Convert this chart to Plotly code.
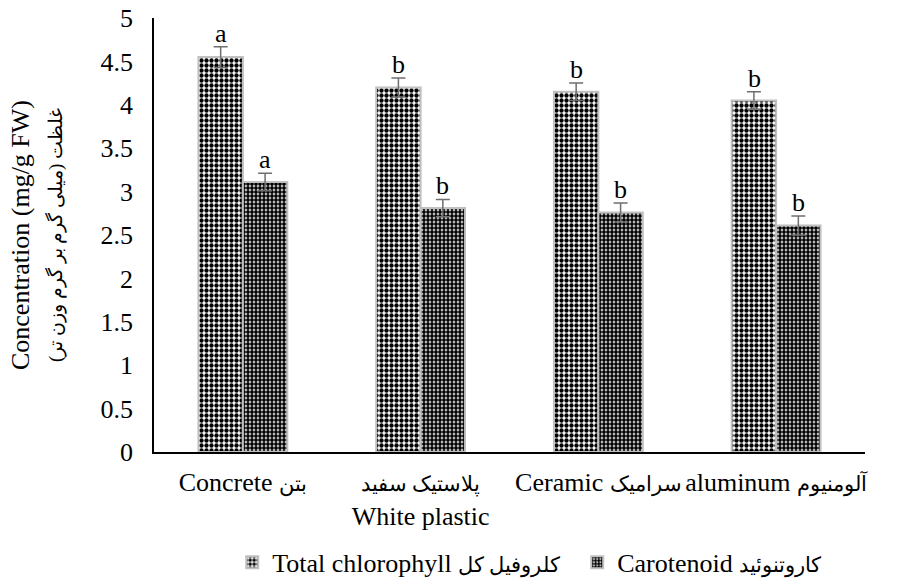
import plotly.graph_objects as go

def fa(s, size):
    return f"<span style='font-size:{size}px'>{s}</span>"

categories = ["Concrete " + fa("بتن", 21),
              fa("پلاستیک سفید", 21) + "<br>White plastic",
              "Ceramic " + fa("سرامیک", 21),
              "aluminum " + fa("آلومنیوم", 21)]
chlorophyll = [4.55, 4.20, 4.15, 4.05]
chlorophyll_err = [0.12, 0.11, 0.10, 0.10]
carotenoid = [3.11, 2.81, 2.76, 2.61]
carotenoid_err = [0.10, 0.10, 0.11, 0.11]
chl_letters = ["a", "b", "b", "b"]
car_letters = ["a", "b", "b", "b"]
series_names = ["Total chlorophyll " + fa("کلروفیل کل", 21), "Carotenoid " + fa("کاروتنوئید", 21)]
y_title = "Concentration (mg/g FW)<br>" + fa("غلظت (میلی گرم بر گرم وزن تر)", 19)

FONT = "Liberation Serif"

fig = go.Figure()
fig.add_trace(go.Bar(
    x=categories, y=chlorophyll, name=series_names[0],
    marker=dict(color="white", line=dict(color="#c0c0c0", width=2),
                pattern=dict(shape=".", fgcolor="black", bgcolor="white", fgopacity=1,
                             size=5, solidity=0.6)),
    error_y=dict(type="data", array=chlorophyll_err, color="#6f6f6f", thickness=1.5, width=7),
))
fig.add_trace(go.Bar(
    x=categories, y=carotenoid, name=series_names[1],
    marker=dict(color="white", line=dict(color="#c0c0c0", width=2),
                pattern=dict(shape=".", fgcolor="black", bgcolor="white", fgopacity=1,
                             size=4, solidity=0.72)),
    error_y=dict(type="data", array=carotenoid_err, color="#6f6f6f", thickness=1.5, width=7),
))

for i, c in enumerate(categories):
    fig.add_annotation(x=c, y=chlorophyll[i] + chlorophyll_err[i], text=chl_letters[i],
                       xshift=-22, yanchor="bottom", yshift=-3, showarrow=False,
                       font=dict(family=FONT, size=26, color="black"))
    fig.add_annotation(x=c, y=carotenoid[i] + carotenoid_err[i], text=car_letters[i],
                       xshift=22, yanchor="bottom", yshift=-3, showarrow=False,
                       font=dict(family=FONT, size=26, color="black"))

fig.update_layout(
    width=901, height=579,
    margin=dict(l=154, r=36, t=18, b=127, autoexpand=False),
    paper_bgcolor="white", plot_bgcolor="white",
    font=dict(family=FONT, size=26, color="black"),
    barmode="group", bargap=0.5, bargroupgap=0,
    showlegend=True,
    legend=dict(orientation="h", x=0.11, xanchor="left", y=-0.2, yanchor="top",
                entrywidth=300, entrywidthmode="pixels",
                font=dict(family=FONT, size=26), traceorder="normal"),
    xaxis=dict(showline=True, linecolor="black", linewidth=1.5, ticks="", tickangle=0,
               tickfont=dict(family=FONT, size=26), ticklabelstandoff=6),
    yaxis=dict(range=[0, 5], dtick=0.5, showline=True, linecolor="black", linewidth=1.5,
               showgrid=False, ticks="", zeroline=False,
               tickfont=dict(family=FONT, size=26), ticklabelstandoff=14,
               title=dict(text=y_title, font=dict(family=FONT, size=26), standoff=30)),
)

fig.write_html("out.html")
